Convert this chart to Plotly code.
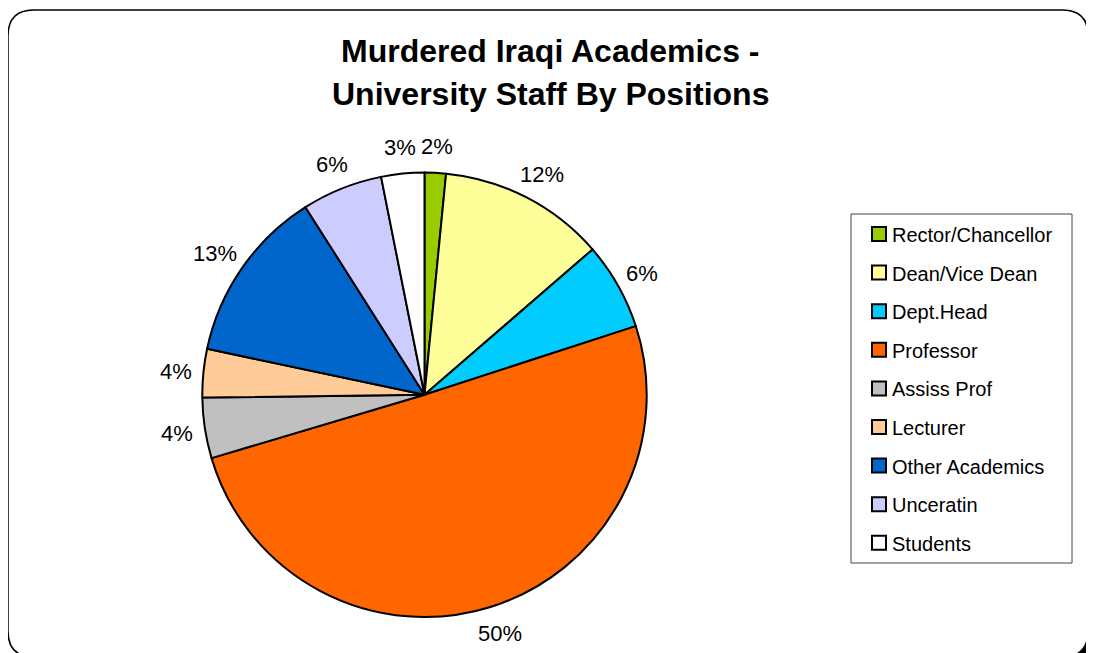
import math
import plotly.graph_objects as go

# page has an 8px body margin; figure occupies screen pixels 8..1094 x 8..653
OX, OY = 8, 8
W, H = 1094 - OX, 653 - OY

positions = ["Rector/Chancellor", "Dean/Vice Dean", "Dept.Head", "Professor",
             "Assiss Prof", "Lecturer", "Other Academics", "Unceratin", "Students"]
shares = [1.55, 12.1, 6.35, 50.4, 4.4, 3.52, 12.68, 5.87, 3.13]
colors = ["#99CC00", "#FFFF99", "#00CCFF", "#FF6600", "#C0C0C0",
          "#FFCC99", "#0066CC", "#CCCCFF", "#FFFFFF"]

FONT = "Liberation Sans, Arial, sans-serif"


def px(x):
    return (x - OX) / W


def py(y):
    return 1 - (y - OY) / H


def rrect(x0, y0, x1, y1, r):
    return (f"M {px(x0 + r)},{py(y0)} L {px(x1 - r)},{py(y0)} "
            f"Q {px(x1)},{py(y0)} {px(x1)},{py(y0 + r)} "
            f"L {px(x1)},{py(y1 - r)} Q {px(x1)},{py(y1)} {px(x1 - r)},{py(y1)} "
            f"L {px(x0 + r)},{py(y1)} Q {px(x0)},{py(y1)} {px(x0)},{py(y1 - r)} "
            f"L {px(x0)},{py(y0 + r)} Q {px(x0)},{py(y0)} {px(x0 + r)},{py(y0)} Z")


fig = go.Figure()

cx, cy, R = 424.5, 394.8, 222.2
fig.add_trace(go.Pie(
    labels=positions,
    values=shares,
    sort=False,
    direction="clockwise",
    rotation=0,
    marker=dict(colors=colors, line=dict(color="black", width=2)),
    textinfo="none",
    domain=dict(x=[px(cx - R), px(cx + R)], y=[py(cy + R), py(cy - R)]),
    showlegend=False,
    hoverinfo="label+percent",
))

annotations = []

# percentage labels placed outside each slice, derived from the slice angles
total = sum(shares)
LFS = 22
cum = 0.0
for v in shares:
    mid = (cum + v / 2) / total * 2 * math.pi
    cum += v
    txt = f"{round(v / total * 100)}%"
    ux, uy = math.sin(mid), -math.cos(mid)
    w = (len(txt) - 1) * 0.556 * LFS + 0.889 * LFS
    lx = cx + (R + 15) * ux + 0.8 * (w / 2) * ux
    ly = cy + (R + 15) * uy + 12 * uy
    annotations.append(dict(text=txt, xref="paper", yref="paper",
                            x=px(lx), y=py(ly + 1), xanchor="center", yanchor="middle",
                            showarrow=False,
                            font=dict(family=FONT, size=LFS, color="black")))

shapes = []
# frame shadow and frame
shapes.append(dict(type="path", xref="paper", yref="paper", layer="below",
                   path=rrect(13, 15, 1093, 662, 26),
                   fillcolor="black", line=dict(color="black", width=1)))
shapes.append(dict(type="path", xref="paper", yref="paper", layer="below",
                   path=rrect(8, 10, 1088, 657, 26),
                   fillcolor="white", line=dict(color="black", width=1.5)))
# legend box
shapes.append(dict(type="rect", xref="paper", yref="paper", layer="below",
                   x0=px(851), x1=px(1072), y0=py(563), y1=py(214),
                   fillcolor="white", line=dict(color="#444444", width=1)))

leg_top, leg_step = 234, 38.6
for i, (name, col) in enumerate(zip(positions, colors)):
    yc = leg_top + i * leg_step
    shapes.append(dict(type="rect", xref="paper", yref="paper",
                       x0=px(872), x1=px(886), y0=py(yc + 7), y1=py(yc - 7),
                       fillcolor=col, line=dict(color="black", width=2)))
    annotations.append(dict(text=name, xref="paper", yref="paper",
                            x=px(890), y=py(yc + 1), xanchor="left", yanchor="middle",
                            showarrow=False,
                            font=dict(family=FONT, size=20, color="black")))

title_lines = ["Murdered Iraqi Academics -", "University Staff By Positions"]
for i, line in enumerate(title_lines):
    annotations.append(dict(
        text=f"<b>{line}</b>", xref="paper", yref="paper",
        x=px(550), y=py(51 + i * 43), xanchor="center", yanchor="middle",
        showarrow=False, font=dict(family=FONT, size=32, color="black")))

fig.update_layout(
    width=W, height=H,
    margin=dict(l=0, r=0, t=0, b=0),
    paper_bgcolor="white",
    plot_bgcolor="white",
    shapes=shapes,
    annotations=annotations,
    showlegend=False,
)

fig.write_html("out.html")
